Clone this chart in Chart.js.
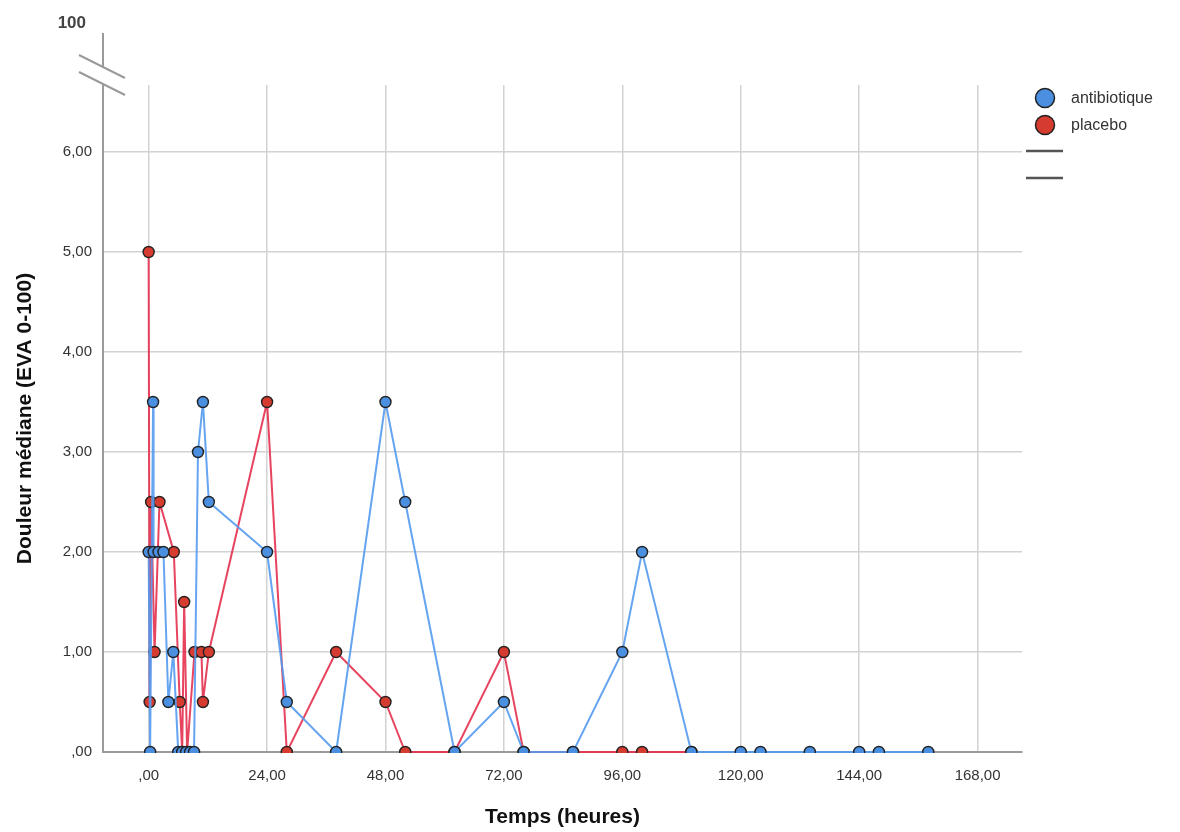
<!DOCTYPE html>
<html>
<head>
<meta charset="utf-8">
<script src="https://cdn.jsdelivr.net/npm/chart.js@4.4.1/dist/chart.umd.min.js"></script>
<style>
  html, body { margin: 0; background: #fff; }
  #wrap { width: 1180px; height: 832px; }
</style>
</head>
<body>
<div id="wrap"><canvas id="chart" width="1180" height="832"></canvas></div>
<script>
// hours after inclusion / median pain (EVA)
const timeAntibio = [0, 0.3, 0.9, 1, 2, 3, 4, 5, 6, 6.8, 7.6, 8.4, 9.2, 10, 11, 12.2, 24, 28, 38, 48, 52, 62, 72, 76, 86, 96, 100, 110, 120, 124, 134, 144, 148, 158];
const painAntibio = [2, 0, 3.5, 2, 2, 2, 0.5, 1, 0, 0, 0, 0, 0, 3, 3.5, 2.5, 2, 0.5, 0, 3.5, 2.5, 0, 0.5, 0, 0, 1, 2, 0, 0, 0, 0, 0, 0, 0];

const timePlacebo = [0, 0.2, 0.5, 1.2, 2.2, 5.1, 6.3, 6.8, 7.2, 7.8, 9.3, 10.7, 11, 12.2, 24, 28, 38, 48, 52, 62, 72, 76, 86, 96, 100, 110];
const painPlacebo = [5, 0.5, 2.5, 1, 2.5, 2, 0.5, 0, 1.5, 0, 1, 1, 0.5, 1, 3.5, 0, 1, 0.5, 0, 0, 1, 0, 0, 0, 0, 0];

const seriesNames = ['antibiotique', 'placebo'];

const xTickValues = [0, 24, 48, 72, 96, 120, 144, 168];
const xTickLabels = [',00', '24,00', '48,00', '72,00', '96,00', '120,00', '144,00', '168,00'];
const yTickValues = [0, 1, 2, 3, 4, 5, 6];
const yTickLabels = [',00', '1,00', '2,00', '3,00', '4,00', '5,00', '6,00'];
const brokenTopLabel = '100';

const FONT = "'Liberation Sans', Arial, sans-serif";
const toPoints = (xs, ys) => xs.map((x, i) => ({ x, y: ys[i] }));

const seriesStyle = (line, fill) => ({
  borderColor: line, backgroundColor: fill,
  pointBackgroundColor: fill, pointBorderColor: '#222',
  pointBorderWidth: 1.4, pointRadius: 5.5, pointHoverRadius: 5.5,
  borderWidth: 2, showLine: true, tension: 0,
  clip: { left: 10, top: 10, right: 10, bottom: 1 },
});

// axis break, "100" label and the side legend are drawn here
const decorations = {
  id: 'decorations',
  afterDraw(chart) {
    const { ctx, chartArea: a } = chart;
    const ax = a.left;
    ctx.save();
    ctx.strokeStyle = '#9a9a9a';
    ctx.lineWidth = 2;
    ctx.beginPath();
    ctx.moveTo(ax, a.top - 52);
    ctx.lineTo(ax, a.top - 18);
    ctx.stroke();
    ctx.beginPath();
    ctx.moveTo(ax - 24, a.top - 30); ctx.lineTo(ax + 22, a.top - 7);
    ctx.moveTo(ax - 24, a.top - 13); ctx.lineTo(ax + 22, a.top + 10);
    ctx.stroke();

    ctx.fillStyle = '#444';
    ctx.font = 'bold 17px ' + FONT;
    ctx.textAlign = 'right';
    ctx.textBaseline = 'middle';
    ctx.fillText(brokenTopLabel, ax - 17, a.top - 62);

    const lx = a.right + 23;
    chart.data.datasets.forEach((ds, i) => {
      const cy = 98 + i * 27;
      ctx.beginPath();
      ctx.arc(lx, cy, 9.5, 0, Math.PI * 2);
      ctx.fillStyle = ds.pointBackgroundColor;
      ctx.fill();
      ctx.strokeStyle = '#222';
      ctx.lineWidth = 1.5;
      ctx.stroke();
      ctx.fillStyle = '#333';
      ctx.font = '16px ' + FONT;
      ctx.textAlign = 'left';
      ctx.fillText(ds.label, lx + 26, cy + 1);
    });
    ctx.strokeStyle = '#555';
    ctx.lineWidth = 2.5;
    [151, 178].forEach(y => {
      ctx.beginPath();
      ctx.moveTo(a.right + 4, y);
      ctx.lineTo(a.right + 41, y);
      ctx.stroke();
    });
    ctx.restore();
  },
};

new Chart(document.getElementById('chart'), {
  type: 'scatter',
  data: {
    datasets: [
      { label: seriesNames[0], data: toPoints(timeAntibio, painAntibio), ...seriesStyle('rgba(84,154,238,0.9)', '#4a8fe0') },
      { label: seriesNames[1], data: toPoints(timePlacebo, painPlacebo), ...seriesStyle('rgba(228,48,78,0.9)', '#d63b2f') },
    ],
  },
  options: {
    responsive: false,
    animation: false,
    events: [],
    layout: { padding: { top: 85, right: 158, left: 0, bottom: 0 } },
    plugins: { legend: { display: false }, tooltip: { enabled: false } },
    scales: {
      x: {
        type: 'linear', min: -9.25, max: 177,
        afterBuildTicks: s => { s.ticks = xTickValues.map(value => ({ value })); },
        afterFit: s => { s.height = 80; },
        grid: { color: '#d2d2d2', lineWidth: 1.5, drawTicks: false },
        border: { color: '#9a9a9a', width: 2 },
        ticks: {
          padding: 15, color: '#333', font: { size: 15, family: FONT },
          maxRotation: 0, autoSkip: false,
          callback: v => xTickLabels[xTickValues.indexOf(v)],
        },
        title: { display: true, text: 'Temps (heures)', color: '#111', font: { size: 21, weight: 'bold', family: FONT }, padding: { top: 2, bottom: 2 } },
      },
      y: {
        type: 'linear', min: 0, max: 6.67,
        afterBuildTicks: s => { s.ticks = yTickValues.map(value => ({ value })); },
        afterFit: s => { s.width = 103; },
        grid: { color: '#d2d2d2', lineWidth: 1.5, drawTicks: false },
        border: { color: '#9a9a9a', width: 2 },
        ticks: {
          padding: 11, color: '#333', font: { size: 15, family: FONT },
          callback: v => yTickLabels[yTickValues.indexOf(v)],
        },
        title: { display: true, text: 'Douleur médiane (EVA 0-100)', color: '#111', font: { size: 21, weight: 'bold', family: FONT }, padding: { top: 13, bottom: 13 } },
      },
    },
  },
  plugins: [decorations],
});
</script>
</body>
</html>
